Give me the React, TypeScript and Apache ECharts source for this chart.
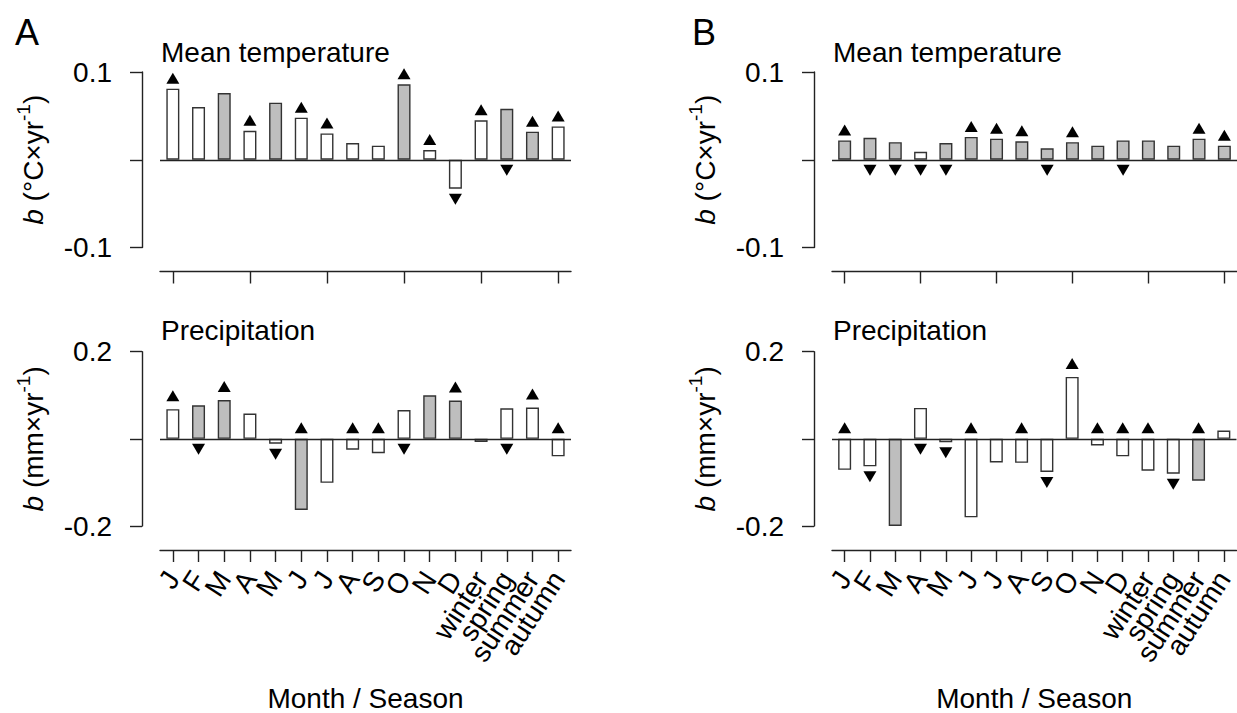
import React, { useEffect, useRef } from "react";
import * as echarts from "echarts";

// Month and season categories on the x axis
const categories = ["J", "F", "M", "A", "M", "J", "J", "A", "S", "O", "N", "D", "winter", "spring", "summer", "autumn"];

// Panel A: regression slopes b
const tempA = [0.081, 0.060, 0.076, 0.033, 0.065, 0.048, 0.030, 0.019, 0.016, 0.086, 0.011, -0.033, 0.045, 0.058, 0.032, 0.038];
const tempASig = [0, 0, 1, 0, 1, 0, 0, 0, 0, 1, 0, 0, 0, 1, 1, 0];
const tempATrend = [1, 0, 0, 1, 0, 1, 1, 0, 0, 1, 1, -1, 1, -1, 1, 1];

const precipA = [0.068, 0.077, 0.089, 0.058, -0.011, -0.163, -0.101, -0.025, -0.033, 0.066, 0.100, 0.088, -0.007, 0.070, 0.072, -0.040];
const precipASig = [0, 1, 1, 0, 0, 1, 0, 0, 0, 0, 1, 1, 0, 0, 0, 0];
const precipATrend = [1, -1, 1, 0, -1, 1, 0, 1, 1, -1, 0, 1, 0, -1, 1, 1];

// Panel B: regression slopes b
const tempB = [0.022, 0.025, 0.020, 0.009, 0.019, 0.026, 0.024, 0.021, 0.013, 0.020, 0.016, 0.022, 0.022, 0.016, 0.024, 0.016];
const tempBSig = [1, 1, 1, 0, 1, 1, 1, 1, 1, 1, 1, 1, 1, 1, 1, 1];
const tempBTrend = [1, -1, -1, -1, -1, 1, 1, 1, -1, 1, 0, -1, 0, 0, 1, 1];

const precipB = [-0.071, -0.063, -0.2, 0.071, -0.008, -0.180, -0.054, -0.055, -0.076, 0.142, -0.015, -0.040, -0.073, -0.080, -0.096, 0.019];
const precipBSig = [0, 0, 1, 0, 0, 0, 0, 0, 0, 0, 0, 0, 0, 0, 1, 0];
const precipBTrend = [1, -1, 0, -1, -1, 1, 0, 1, -1, 1, 1, 1, 1, -1, 1, 0];

// Y axis ranges
const tempTicks = [-0.1, 0, 0.1];
const precipTicks = [-0.2, 0, 0.2];

const FONT = "'Liberation Sans', Arial, Helvetica, sans-serif";
const FS = 28;
const INK = "#222";
const GRAY = "#bebebe";
const UP = "path://M0,11 L6.5,0 L13,11 Z";
const DOWN = "path://M0,0 L13,0 L6.5,11 Z";

const yName = (unit: string) => `{i|b}{n| (${unit}×yr}{s|-1}{n|)}`;

const nameRich = {
  i: { fontFamily: FONT, fontSize: FS, fontStyle: "italic", color: "#000", verticalAlign: "bottom" },
  n: { fontFamily: FONT, fontSize: FS, color: "#000", verticalAlign: "bottom" },
  s: { fontFamily: FONT, fontSize: 19, color: "#000", verticalAlign: "top", padding: [0, 0, 14, 0] },
};

function buildPanel(
  g: number,
  values: number[],
  sig: number[],
  trend: number[],
  upPos: number,
  upBase: number,
  down: number
) {
  const bars = {
    type: "bar",
    xAxisIndex: g,
    yAxisIndex: g,
    barWidth: 13,
    data: values.map((v, i) => ({
      value: v,
      itemStyle: { color: sig[i] ? GRAY : "#fff", borderColor: "#333", borderWidth: 1.4 },
    })),
    markLine: {
      silent: true,
      symbol: ["none", "none"],
      label: { show: false },
      lineStyle: { color: INK, width: 1.4, type: "solid" },
      data: [{ yAxis: 0 }],
    },
    z: 2,
  };
  const marks: any[] = [];
  values.forEach((v, i) => {
    if (trend[i] > 0) {
      marks.push({
        value: [i, Math.max(v, 0)],
        symbol: UP,
        symbolOffset: [0, v > 0 ? -upPos : -upBase],
      });
    } else if (trend[i] < 0) {
      marks.push({
        value: [i, Math.min(v, 0)],
        symbol: DOWN,
        symbolOffset: [0, down],
      });
    }
  });
  const arrows = {
    type: "scatter",
    xAxisIndex: g,
    yAxisIndex: g,
    symbolSize: [13, 11],
    itemStyle: { color: "#000", opacity: 1 },
    data: marks,
    z: 3,
  };
  return [bars, arrows];
}

function xAxisFor(g: number, withLabels: boolean) {
  return {
    type: "category",
    gridIndex: g,
    data: categories,
    position: "bottom",
    offset: 24,
    axisLine: { show: true, onZero: false, lineStyle: { color: INK, width: 1.4 } },
    axisTick: { show: true, alignWithLabel: true, length: 12, lineStyle: { color: INK, width: 1.4 } },
    axisLabel: withLabels
      ? { show: true, interval: 0, rotate: 57, margin: 24, fontFamily: FONT, fontSize: FS, color: "#000" }
      : { show: false },
    name: withLabels ? "Month / Season" : "",
    nameLocation: "middle",
    nameGap: 134,
    nameTextStyle: { fontFamily: FONT, fontSize: FS, color: "#000" },
    splitLine: { show: false },
  };
}

function yAxisFor(g: number, ticks: number[], unit: string) {
  const step = ticks[2];
  return {
    type: "value",
    gridIndex: g,
    min: ticks[0],
    max: ticks[2],
    interval: step,
    offset: 18,
    axisLine: { show: true, lineStyle: { color: INK, width: 1.4 } },
    axisTick: { show: true, length: 12, lineStyle: { color: INK, width: 1.4 } },
    axisLabel: {
      margin: 30,
      fontFamily: FONT,
      fontSize: FS,
      color: "#000",
      formatter: (v: number) => (Math.abs(v) < 1e-9 ? "" : v.toFixed(1)),
    },
    splitLine: { show: false },
    name: yName(unit),
    nameLocation: "middle",
    nameRotate: 90,
    nameGap: 95,
    nameTextStyle: { fontFamily: FONT, fontSize: FS, color: "#000", rich: nameRich },
  };
}

const textEl = (text: string, x: number, y: number, size: number) => ({
  type: "text",
  x,
  y,
  style: { text, fontFamily: FONT, fontSize: size, fill: "#000", align: "left", verticalAlign: "middle" },
});

export default function App() {
  const ref = useRef<HTMLDivElement>(null);

  useEffect(() => {
    if (!ref.current) return;
    const chart = echarts.init(ref.current, undefined, { renderer: "svg" });
    const grids = [
      { left: 160, top: 72, width: 411, height: 175.5 },
      { left: 160, top: 351.7, width: 411, height: 176 },
      { left: 832, top: 72, width: 411, height: 175.5 },
      { left: 832, top: 351.7, width: 411, height: 176 },
    ];
    chart.setOption({
      animation: false,
      backgroundColor: "#fff",
      textStyle: { fontFamily: FONT },
      grid: grids,
      xAxis: [xAxisFor(0, false), xAxisFor(1, true), xAxisFor(2, false), xAxisFor(3, true)],
      yAxis: [
        yAxisFor(0, tempTicks, "°C"),
        yAxisFor(1, precipTicks, "mm"),
        yAxisFor(2, tempTicks, "°C"),
        yAxisFor(3, precipTicks, "mm"),
      ],
      series: [
        ...buildPanel(0, tempA, tempASig, tempATrend, 10.5, 10.5, 10.5),
        ...buildPanel(1, precipA, precipASig, precipATrend, 13.5, 11, 10.5),
        ...buildPanel(2, tempB, tempBSig, tempBTrend, 10.5, 10.5, 10.5),
        ...buildPanel(3, precipB, precipBSig, precipBTrend, 13.5, 11, 10.5),
      ],
      graphic: [
        textEl("A", 15, 32.5, 36),
        textEl("B", 692, 32.5, 36),
        textEl("Mean temperature", 161, 52, FS),
        textEl("Precipitation", 161, 330.3, FS),
        textEl("Mean temperature", 833, 52, FS),
        textEl("Precipitation", 833, 330.3, FS),
      ],
    });
    return () => chart.dispose();
  }, []);

  return (
    <div
      ref={ref}
      style={{ position: "fixed", left: 0, top: 0, width: 1237, height: 713, background: "#fff" }}
    />
  );
}
